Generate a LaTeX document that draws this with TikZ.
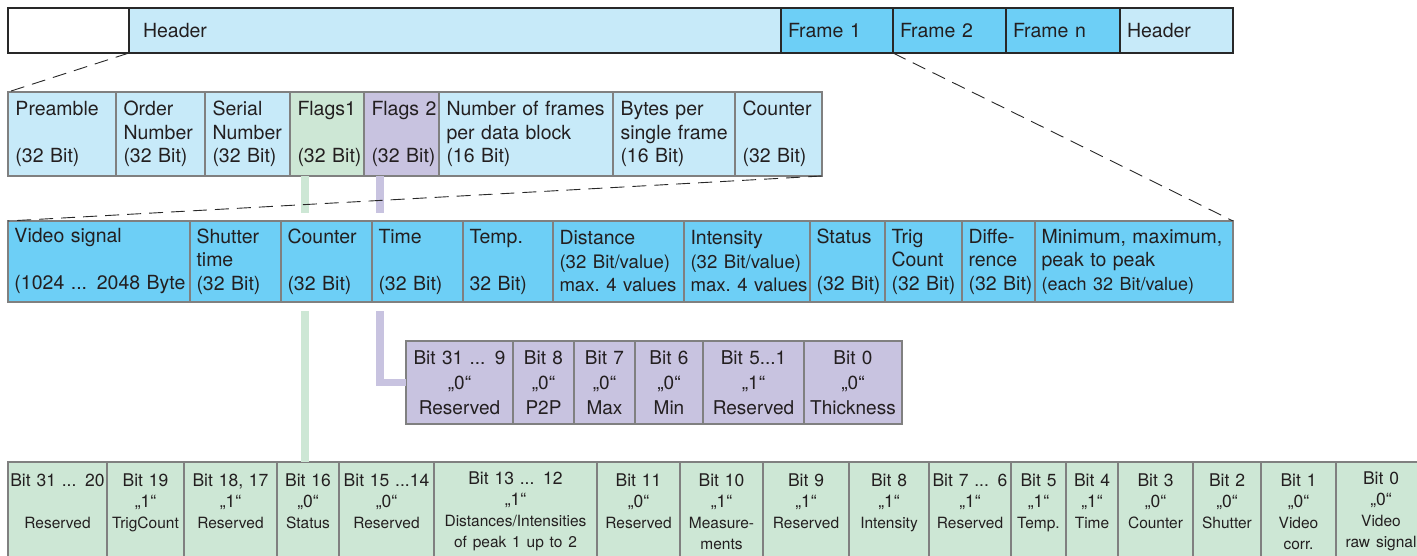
\documentclass[tikz,border=0pt]{standalone}
\usepackage{fontspec}
\setmainfont{TeX Gyre Heros}
\usetikzlibrary{positioning}
\definecolor{hdrblue}{RGB}{199,234,249}
\definecolor{frmblue}{RGB}{109,207,246}
\definecolor{flgreen}{RGB}{205,231,213}
\definecolor{flviolet}{RGB}{200,195,224}
\definecolor{cellline}{RGB}{128,128,128}
\definecolor{topline}{RGB}{40,40,40}
\definecolor{txt}{RGB}{35,31,32}
\newcommand\dsc[1]{{\fontsize{15.5}{21}\selectfont #1}}
\newcommand\nar[1]{{\fontsize{18.6}{23.5}\selectfont #1}}
\hyphenpenalty=10000
\exhyphenpenalty=10000

\begin{document}
\begin{tikzpicture}[x=1pt, y=-1pt,
  every node/.style={font=\fontsize{19.5}{23.5}\selectfont, text=txt},
  cell/.style={draw=cellline, line width=1.1pt, inner ysep=0pt, outer sep=0pt},
  lcell/.style={cell, align=left, inner xsep=1pt, minimum width=#1, text width=#1-2pt},
  topc/.style={lcell=#1, draw=topline, line width=2.2pt, minimum height=45pt, execute at begin node={\leftskip=6pt}},
  hc/.style={lcell=#1, fill=hdrblue, minimum height=84pt, execute at begin node={\leftskip=6.5pt}},
  fc/.style={lcell=#1, fill=frmblue, minimum height=81pt, execute at begin node={\leftskip=5.5pt}, execute at end node={\vspace*{0pt}}},
  pc/.style={cell, fill=flviolet, minimum height=83pt, inner xsep=1pt, align=center, minimum width=#1, text width=#1-2pt, font=\fontsize{19}{25}\selectfont},
  bc/.style={cell, fill=flgreen, minimum height=99pt, inner xsep=1pt, align=center, minimum width=#1, text width=#1-2pt, font=\fontsize{17.5}{21}\selectfont},
  link/.style={line width=7.5pt},
  zoomline/.style={draw=topline, line width=0.9pt, dash pattern=on 14pt off 8pt}]
\useasboundingbox (0,0) rectangle (1417,556);

% data stream
\node[topc=121pt, anchor=north west] (tBlank) at (8,8) {};
\node[topc=652pt, fill=hdrblue, right=0pt of tBlank] (tHead) {\hspace*{7pt}Header};
\node[topc=112pt, fill=frmblue, right=0pt of tHead] (tF1) {Frame 1};
\node[topc=113pt, fill=frmblue, right=0pt of tF1] (tF2) {Frame 2};
\node[topc=114pt, fill=frmblue, right=0pt of tF2] (tFn) {Frame n};
\node[topc=113pt, fill=hdrblue, right=0pt of tFn] (tHead2) {Header};

% header
\node[hc=108pt, anchor=north west] (hPre) at (8,92) {Preamble\\~\\(32 Bit)};
\node[hc=89pt, right=0pt of hPre] (hOrd) {Order\\Number\\(32 Bit)};
\node[hc=85pt, right=0pt of hOrd] (hSer) {Serial\\Number\\(32 Bit)};
\node[hc=74pt, fill=flgreen, right=0pt of hSer] (hFl1) {Flags1\\~\\(32~Bit)};
\node[hc=75pt, fill=flviolet, right=0pt of hFl1] (hFl2) {Flags~2\\~\\(32~Bit)};
\node[hc=174pt, right=0pt of hFl2] (hNum) {Number of frames\\per data block\\(16 Bit)};
\node[hc=122pt, right=0pt of hNum] (hByt) {Bytes per\\single frame\\(16 Bit)};
\node[hc=87pt, right=0pt of hByt] (hCnt) {Counter\\~\\(32 Bit)};

% frame
\node[fc=182pt, anchor=north west] (fVid) at (8,221) {Video signal\\~\\(1024 ... 2048 Byte};
\node[fc=91pt, right=0pt of fVid] (fShu) {Shutter\\time\\(32 Bit)};
\node[fc=91pt, right=0pt of fShu] (fCnt) {Counter\\~\\(32 Bit)};
\node[fc=91pt, right=0pt of fCnt] (fTim) {Time\\~\\(32 Bit)};
\node[fc=90pt, right=0pt of fTim] (fTmp) {Temp.\\~\\32 Bit)};
\node[fc=131pt, right=0pt of fTmp] (fDst) {Distance\\\nar{(32~Bit/value)}\\\nar{max.~4~values}};
\node[fc=126pt, right=0pt of fDst] (fInt) {Intensity\\\nar{(32~Bit/value)}\\\nar{max.~4~values}};
\node[fc=75pt, right=0pt of fInt] (fSta) {Status\\~\\(32~Bit)};
\node[fc=77pt, right=0pt of fSta] (fTrg) {Trig\\Count\\(32~Bit)};
\node[fc=73pt, right=0pt of fTrg] (fDif) {Diffe-\\rence\\(32~Bit)};
\node[fc=198pt, right=0pt of fDif] (fMin) {Minimum, maximum,\\peak to peak\\{\fontsize{18}{23.5}\selectfont (each 32 Bit/value)}};

% flags 2
\node[pc=107pt, anchor=north west] (p31) at (406,341) {Bit 31 ... 9\\„0“\\Reserved};
\node[pc=61pt, right=0pt of p31] (p8) {Bit 8\\„0“\\P2P};
\node[pc=61pt, right=0pt of p8] (p7) {Bit 7\\„0“\\Max};
\node[pc=68pt, right=0pt of p7] (p6) {Bit 6\\„0“\\Min};
\node[pc=101pt, right=0pt of p6] (p5) {Bit 5...1\\„1“\\Reserved};
\node[pc=98pt, right=0pt of p5] (p0) {Bit 0\\„0“\\Thickness};

% flags 1
\node[bc=99pt, anchor=north west] (b31) at (8,462) {Bit 31 ... 20\\~\\\dsc{Reserved}\\~};
\node[bc=77pt, right=0pt of b31] (b19) {Bit 19\\„1“\\\dsc{TrigCount}\\~};
\node[bc=93pt, right=0pt of b19] (b18) {Bit 18, 17\\„1“\\\dsc{Reserved}\\~};
\node[bc=62pt, right=0pt of b18] (b16) {Bit 16\\„0“\\\dsc{Status}\\~};
\node[bc=95pt, right=0pt of b16] (b15) {Bit 15 ...14\\„0“\\\dsc{Reserved}\\~};
\node[bc=163pt, right=0pt of b15] (b13) {Bit 13 ... 12\\„1“\\\dsc{Distances/Intensities}\\\dsc{of peak 1 up to 2}};
\node[bc=83pt, right=0pt of b13] (b11) {Bit 11\\„0“\\\dsc{Reserved}\\~};
\node[bc=83pt, right=0pt of b11] (b10) {Bit 10\\„1“\\\dsc{Measure-}\\\dsc{ments}};
\node[bc=86pt, right=0pt of b10] (b9) {Bit 9\\„1“\\\dsc{Reserved}\\~};
\node[bc=80pt, right=0pt of b9] (b8) {Bit 8\\„1“\\\dsc{Intensity}\\~};
\node[bc=82pt, right=0pt of b8] (b7) {Bit 7 ... 6\\„1“\\\dsc{Reserved}\\~};
\node[bc=55pt, right=0pt of b7] (b5) {Bit 5\\„1“\\\dsc{Temp.}\\~};
\node[bc=52pt, right=0pt of b5] (b4) {Bit 4\\„1“\\\dsc{Time}\\~};
\node[bc=75pt, right=0pt of b4] (b3) {Bit 3\\„0“\\\dsc{Counter}\\~};
\node[bc=68pt, right=0pt of b3] (b2) {Bit 2\\„0“\\\dsc{Shutter}\\~};
\node[bc=75pt, right=0pt of b2] (b1) {Bit 1\\„0“\\\dsc{Video}\\\dsc{corr.}};
\node[bc=90pt, right=0pt of b1] (b0) {Bit 0\\„0“\\\dsc{Video}\\\dsc{raw signal}};

% flag links
\coordinate (gx) at ([xshift=15pt]hFl1.south west);
\coordinate (vx) at ([xshift=16pt]hFl2.south west);
\draw[link, draw=flgreen] (gx) -- ([yshift=8pt]gx |- fVid.north);
\draw[link, draw=flgreen] ([yshift=-9pt]gx |- fVid.south) -- (gx |- b16.north);
\draw[link, draw=flviolet] (vx) -- ([yshift=8pt]vx |- fVid.north);
\draw[link, draw=flviolet] ([yshift=-9pt]vx |- fVid.south) |- (p31.west);

% zoom lines
\draw[zoomline] (tHead.south west) -- (hPre.north west);
\draw[zoomline] (tF2.south west) -- (fMin.north east);
\draw[zoomline] (hCnt.south east) -- (fVid.north west);
\end{tikzpicture}
\end{document}
